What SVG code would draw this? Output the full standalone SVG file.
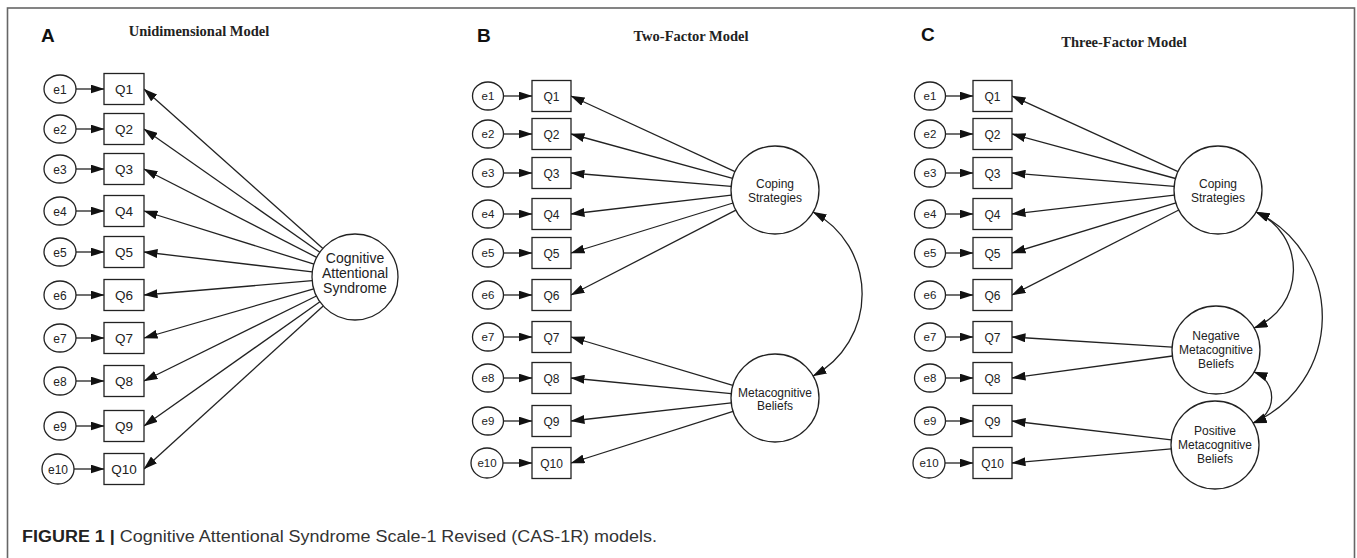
<svg xmlns="http://www.w3.org/2000/svg" width="1357" height="558" viewBox="0 0 1357 558">
<style>
.frame{fill:none;stroke:#666;stroke-width:1.6}
.box{fill:#fff;stroke:#222;stroke-width:1.3}
.err{fill:#fff;stroke:#222;stroke-width:1.3}
.lat{fill:#fff;stroke:#222;stroke-width:1.3}
.t{font-family:"Liberation Sans",Arial,sans-serif;font-size:12px;fill:#222;text-anchor:middle}
.ta{font-size:13.5px}
.te{font-size:11.5px}
.panel{font-family:"Liberation Sans",Arial,sans-serif;font-size:19px;font-weight:bold;fill:#111}
.title{font-family:"Liberation Serif","Times New Roman",serif;font-size:14.5px;font-weight:bold;fill:#222;text-anchor:middle}
.cap{font-family:"Liberation Sans",Arial,sans-serif;font-size:16px;fill:#333}
.ln{fill:none;stroke:#222;stroke-width:1.3;marker-end:url(#ah)}
.cv{fill:none;stroke:#222;stroke-width:1.3;marker-start:url(#ah);marker-end:url(#ah)}
</style>
<defs>
<marker id="ah" markerUnits="userSpaceOnUse" markerWidth="14" markerHeight="9" viewBox="0 0 14 9" refX="13.5" refY="4.5" orient="auto-start-reverse">
<path d="M0,0 L14,4.5 L0,9 z" fill="#111"/>
</marker>
</defs>
<rect class="frame" x="7.5" y="8" width="1347" height="600"/>

<!-- Panel labels and titles -->
<text class="panel" x="41" y="42">A</text>
<text class="title" x="199" y="36">Unidimensional Model</text>
<text class="panel" x="477" y="42">B</text>
<text class="title" x="691" y="41">Two-Factor Model</text>
<text class="panel" x="921" y="41">C</text>
<text class="title" x="1124" y="47">Three-Factor Model</text>

<!-- Connectors -->
<g id="connectors">
<line class="ln" x1="76" y1="89" x2="104" y2="89"/>
<line class="ln" x1="76" y1="129" x2="104" y2="129"/>
<line class="ln" x1="76" y1="169" x2="104" y2="169"/>
<line class="ln" x1="76" y1="211" x2="104" y2="211"/>
<line class="ln" x1="76" y1="252" x2="104" y2="252"/>
<line class="ln" x1="76" y1="295" x2="104" y2="295"/>
<line class="ln" x1="76" y1="338" x2="104" y2="338"/>
<line class="ln" x1="76" y1="381" x2="104" y2="381"/>
<line class="ln" x1="76" y1="426" x2="104" y2="426"/>
<line class="ln" x1="74" y1="469" x2="104" y2="469"/>
<line class="ln" x1="322.9" y1="248.4" x2="144" y2="89"/>
<line class="ln" x1="319.8" y1="252.3" x2="144" y2="129"/>
<line class="ln" x1="316.7" y1="257.4" x2="144" y2="169"/>
<line class="ln" x1="314.0" y1="264.2" x2="144" y2="211"/>
<line class="ln" x1="312.3" y1="271.9" x2="144" y2="252"/>
<line class="ln" x1="312.2" y1="280.7" x2="144" y2="295"/>
<line class="ln" x1="313.7" y1="288.9" x2="144" y2="338"/>
<line class="ln" x1="316.4" y1="296.0" x2="144" y2="381"/>
<line class="ln" x1="319.9" y1="301.8" x2="144" y2="426"/>
<line class="ln" x1="323.2" y1="305.9" x2="144" y2="469"/>
<line class="ln" x1="503" y1="96" x2="532" y2="96"/>
<line class="ln" x1="503" y1="134" x2="532" y2="134"/>
<line class="ln" x1="503" y1="173" x2="532" y2="173"/>
<line class="ln" x1="503" y1="214" x2="532" y2="214"/>
<line class="ln" x1="503" y1="253" x2="532" y2="253"/>
<line class="ln" x1="503" y1="295" x2="532" y2="295"/>
<line class="ln" x1="503" y1="337" x2="532" y2="337"/>
<line class="ln" x1="503" y1="378" x2="532" y2="378"/>
<line class="ln" x1="503" y1="421" x2="532" y2="421"/>
<line class="ln" x1="503" y1="463" x2="532" y2="463"/>
<line class="ln" x1="735.0" y1="171.6" x2="571" y2="96"/>
<line class="ln" x1="732.6" y1="178.3" x2="571" y2="134"/>
<line class="ln" x1="731.1" y1="186.3" x2="571" y2="173"/>
<line class="ln" x1="731.3" y1="195.1" x2="571" y2="214"/>
<line class="ln" x1="733.0" y1="203.0" x2="571" y2="253"/>
<line class="ln" x1="735.9" y1="210.1" x2="571" y2="295"/>
<line class="ln" x1="732.8" y1="385.4" x2="571" y2="337"/>
<line class="ln" x1="731.2" y1="393.7" x2="571" y2="378"/>
<line class="ln" x1="731.3" y1="402.9" x2="571" y2="421"/>
<line class="ln" x1="733.1" y1="411.4" x2="571" y2="463"/>
<path class="cv" d="M813,212 A93,93 0 0 1 813,376"/>
<line class="ln" x1="945" y1="96" x2="973" y2="96"/>
<line class="ln" x1="945" y1="134" x2="973" y2="134"/>
<line class="ln" x1="945" y1="173" x2="973" y2="173"/>
<line class="ln" x1="945" y1="214" x2="973" y2="214"/>
<line class="ln" x1="945" y1="253" x2="973" y2="253"/>
<line class="ln" x1="945" y1="295" x2="973" y2="295"/>
<line class="ln" x1="945" y1="337" x2="973" y2="337"/>
<line class="ln" x1="945" y1="378" x2="973" y2="378"/>
<line class="ln" x1="945" y1="421" x2="973" y2="421"/>
<line class="ln" x1="945" y1="463" x2="973" y2="463"/>
<line class="ln" x1="1178.0" y1="171.7" x2="1012" y2="96"/>
<line class="ln" x1="1175.5" y1="178.5" x2="1012" y2="134"/>
<line class="ln" x1="1174.1" y1="186.4" x2="1012" y2="173"/>
<line class="ln" x1="1174.3" y1="195.1" x2="1012" y2="214"/>
<line class="ln" x1="1175.9" y1="202.9" x2="1012" y2="253"/>
<line class="ln" x1="1178.8" y1="210.0" x2="1012" y2="295"/>
<line class="ln" x1="1172.1" y1="347.2" x2="1012" y2="337"/>
<line class="ln" x1="1172.4" y1="356.0" x2="1012" y2="378"/>
<line class="ln" x1="1171.3" y1="439.8" x2="1012" y2="421"/>
<line class="ln" x1="1171.2" y1="448.9" x2="1012" y2="463"/>
<path class="cv" d="M1256,212 A63,63 0 0 1 1254,328"/>
<path class="cv" d="M1256,212 A116,116 0 0 1 1253,423"/>
<path class="cv" d="M1254,372 A27,27 0 0 1 1253,423"/>
</g>

<!-- Panel A nodes -->
<g id="A-e1"><ellipse class="err" cx="60" cy="89" rx="16" ry="14"/><text class="t" x="60" y="93.5">e1</text></g>
<g id="A-e2"><ellipse class="err" cx="60" cy="129" rx="16" ry="14"/><text class="t" x="60" y="133.5">e2</text></g>
<g id="A-e3"><ellipse class="err" cx="60" cy="169" rx="16" ry="14"/><text class="t" x="60" y="173.5">e3</text></g>
<g id="A-e4"><ellipse class="err" cx="60" cy="211" rx="16" ry="14"/><text class="t" x="60" y="215.5">e4</text></g>
<g id="A-e5"><ellipse class="err" cx="60" cy="252" rx="16" ry="14"/><text class="t" x="60" y="256.5">e5</text></g>
<g id="A-e6"><ellipse class="err" cx="60" cy="295" rx="16" ry="14"/><text class="t" x="60" y="299.5">e6</text></g>
<g id="A-e7"><ellipse class="err" cx="60" cy="338" rx="16" ry="14"/><text class="t" x="60" y="342.5">e7</text></g>
<g id="A-e8"><ellipse class="err" cx="60" cy="381" rx="16" ry="14"/><text class="t" x="60" y="385.5">e8</text></g>
<g id="A-e9"><ellipse class="err" cx="60" cy="426" rx="16" ry="14"/><text class="t" x="60" y="430.5">e9</text></g>
<g id="A-e10"><ellipse class="err" cx="58" cy="469" rx="16" ry="15"/><text class="t" x="58" y="473.5">e10</text></g>
<g id="A-Q1"><rect class="box" x="104" y="73.5" width="40" height="31"/><text class="t ta" x="124" y="94">Q1</text></g>
<g id="A-Q2"><rect class="box" x="104" y="113.5" width="40" height="31"/><text class="t ta" x="124" y="134">Q2</text></g>
<g id="A-Q3"><rect class="box" x="104" y="153.5" width="40" height="31"/><text class="t ta" x="124" y="174">Q3</text></g>
<g id="A-Q4"><rect class="box" x="104" y="195.5" width="40" height="31"/><text class="t ta" x="124" y="216">Q4</text></g>
<g id="A-Q5"><rect class="box" x="104" y="236.5" width="40" height="31"/><text class="t ta" x="124" y="257">Q5</text></g>
<g id="A-Q6"><rect class="box" x="104" y="279.5" width="40" height="31"/><text class="t ta" x="124" y="300">Q6</text></g>
<g id="A-Q7"><rect class="box" x="104" y="322.5" width="40" height="31"/><text class="t ta" x="124" y="343">Q7</text></g>
<g id="A-Q8"><rect class="box" x="104" y="365.5" width="40" height="31"/><text class="t ta" x="124" y="386">Q8</text></g>
<g id="A-Q9"><rect class="box" x="104" y="410.5" width="40" height="31"/><text class="t ta" x="124" y="431">Q9</text></g>
<g id="A-Q10"><rect class="box" x="104" y="453.5" width="40" height="31"/><text class="t ta" x="124" y="474">Q10</text></g>
<g id="A-CAS"><circle class="lat" cx="355" cy="277" r="43"/>
<text class="t" x="355" y="263" style="font-size:14px">Cognitive</text><text class="t" x="355" y="278" style="font-size:14px">Attentional</text><text class="t" x="355" y="292.5" style="font-size:14px">Syndrome</text></g>

<!-- Panel B nodes -->
<g id="B-e1"><ellipse class="err" cx="488" cy="96" rx="15.5" ry="14"/><text class="t te" x="488" y="100">e1</text></g>
<g id="B-e2"><ellipse class="err" cx="488" cy="134" rx="15.5" ry="14"/><text class="t te" x="488" y="138">e2</text></g>
<g id="B-e3"><ellipse class="err" cx="488" cy="173" rx="15.5" ry="14"/><text class="t te" x="488" y="177">e3</text></g>
<g id="B-e4"><ellipse class="err" cx="488" cy="214" rx="15.5" ry="14"/><text class="t te" x="488" y="218">e4</text></g>
<g id="B-e5"><ellipse class="err" cx="488" cy="253" rx="15.5" ry="14"/><text class="t te" x="488" y="257">e5</text></g>
<g id="B-e6"><ellipse class="err" cx="488" cy="295" rx="15.5" ry="14"/><text class="t te" x="488" y="299">e6</text></g>
<g id="B-e7"><ellipse class="err" cx="488" cy="337" rx="15.5" ry="14"/><text class="t te" x="488" y="341">e7</text></g>
<g id="B-e8"><ellipse class="err" cx="488" cy="378" rx="15.5" ry="14"/><text class="t te" x="488" y="382">e8</text></g>
<g id="B-e9"><ellipse class="err" cx="488" cy="421" rx="15.5" ry="14"/><text class="t te" x="488" y="425">e9</text></g>
<g id="B-e10"><ellipse class="err" cx="487" cy="463" rx="16" ry="15"/><text class="t te" x="487" y="467">e10</text></g>
<g id="B-Q1"><rect class="box" x="532" y="80.5" width="39" height="31"/><text class="t" x="551.5" y="100.5">Q1</text></g>
<g id="B-Q2"><rect class="box" x="532" y="118.5" width="39" height="31"/><text class="t" x="551.5" y="138.5">Q2</text></g>
<g id="B-Q3"><rect class="box" x="532" y="157.5" width="39" height="31"/><text class="t" x="551.5" y="177.5">Q3</text></g>
<g id="B-Q4"><rect class="box" x="532" y="198.5" width="39" height="31"/><text class="t" x="551.5" y="218.5">Q4</text></g>
<g id="B-Q5"><rect class="box" x="532" y="237.5" width="39" height="31"/><text class="t" x="551.5" y="257.5">Q5</text></g>
<g id="B-Q6"><rect class="box" x="532" y="279.5" width="39" height="31"/><text class="t" x="551.5" y="299.5">Q6</text></g>
<g id="B-Q7"><rect class="box" x="532" y="321.5" width="39" height="31"/><text class="t" x="551.5" y="341.5">Q7</text></g>
<g id="B-Q8"><rect class="box" x="532" y="362.5" width="39" height="31"/><text class="t" x="551.5" y="382.5">Q8</text></g>
<g id="B-Q9"><rect class="box" x="532" y="405.5" width="39" height="31"/><text class="t" x="551.5" y="425.5">Q9</text></g>
<g id="B-Q10"><rect class="box" x="532" y="447.5" width="39" height="31"/><text class="t" x="551.5" y="467.5">Q10</text></g>
<g id="B-Coping"><circle class="lat" cx="775" cy="190" r="44"/>
<text class="t" x="775" y="187.5">Coping</text><text class="t" x="775" y="201.5">Strategies</text></g>
<g id="B-Meta"><circle class="lat" cx="775" cy="398" r="44"/>
<text class="t" x="775" y="396.5">Metacognitive</text><text class="t" x="775" y="409.5">Beliefs</text></g>

<!-- Panel C nodes -->
<g id="C-e1"><ellipse class="err" cx="930" cy="96" rx="15.5" ry="14"/><text class="t te" x="930" y="100">e1</text></g>
<g id="C-e2"><ellipse class="err" cx="930" cy="134" rx="15.5" ry="14"/><text class="t te" x="930" y="138">e2</text></g>
<g id="C-e3"><ellipse class="err" cx="930" cy="173" rx="15.5" ry="14"/><text class="t te" x="930" y="177">e3</text></g>
<g id="C-e4"><ellipse class="err" cx="930" cy="214" rx="15.5" ry="14"/><text class="t te" x="930" y="218">e4</text></g>
<g id="C-e5"><ellipse class="err" cx="930" cy="253" rx="15.5" ry="14"/><text class="t te" x="930" y="257">e5</text></g>
<g id="C-e6"><ellipse class="err" cx="930" cy="295" rx="15.5" ry="14"/><text class="t te" x="930" y="299">e6</text></g>
<g id="C-e7"><ellipse class="err" cx="930" cy="337" rx="15.5" ry="14"/><text class="t te" x="930" y="341">e7</text></g>
<g id="C-e8"><ellipse class="err" cx="930" cy="378" rx="15.5" ry="14"/><text class="t te" x="930" y="382">e8</text></g>
<g id="C-e9"><ellipse class="err" cx="930" cy="421" rx="15.5" ry="14"/><text class="t te" x="930" y="425">e9</text></g>
<g id="C-e10"><ellipse class="err" cx="929" cy="463" rx="16" ry="15"/><text class="t te" x="929" y="467">e10</text></g>
<g id="C-Q1"><rect class="box" x="973" y="80.5" width="39" height="31"/><text class="t" x="992.5" y="100.5">Q1</text></g>
<g id="C-Q2"><rect class="box" x="973" y="118.5" width="39" height="31"/><text class="t" x="992.5" y="138.5">Q2</text></g>
<g id="C-Q3"><rect class="box" x="973" y="157.5" width="39" height="31"/><text class="t" x="992.5" y="177.5">Q3</text></g>
<g id="C-Q4"><rect class="box" x="973" y="198.5" width="39" height="31"/><text class="t" x="992.5" y="218.5">Q4</text></g>
<g id="C-Q5"><rect class="box" x="973" y="237.5" width="39" height="31"/><text class="t" x="992.5" y="257.5">Q5</text></g>
<g id="C-Q6"><rect class="box" x="973" y="279.5" width="39" height="31"/><text class="t" x="992.5" y="299.5">Q6</text></g>
<g id="C-Q7"><rect class="box" x="973" y="321.5" width="39" height="31"/><text class="t" x="992.5" y="341.5">Q7</text></g>
<g id="C-Q8"><rect class="box" x="973" y="362.5" width="39" height="31"/><text class="t" x="992.5" y="382.5">Q8</text></g>
<g id="C-Q9"><rect class="box" x="973" y="405.5" width="39" height="31"/><text class="t" x="992.5" y="425.5">Q9</text></g>
<g id="C-Q10"><rect class="box" x="973" y="447.5" width="39" height="31"/><text class="t" x="992.5" y="467.5">Q10</text></g>
<g id="C-Coping"><circle class="lat" cx="1218" cy="190" r="44"/>
<text class="t" x="1218" y="187.5">Coping</text><text class="t" x="1218" y="201.5">Strategies</text></g>
<g id="C-Neg"><circle class="lat" cx="1216" cy="350" r="44"/>
<text class="t" x="1216" y="340">Negative</text><text class="t" x="1216" y="354">Metacognitive</text><text class="t" x="1216" y="368">Beliefs</text></g>
<g id="C-Pos"><circle class="lat" cx="1215" cy="445" r="44"/>
<text class="t" x="1215" y="435">Positive</text><text class="t" x="1215" y="449">Metacognitive</text><text class="t" x="1215" y="463">Beliefs</text></g>

<text class="cap" x="22" y="542" textLength="635" lengthAdjust="spacingAndGlyphs"><tspan font-weight="bold" fill="#222">FIGURE 1 |</tspan> Cognitive Attentional Syndrome Scale-1 Revised (CAS-1R) models.</text>
</svg>
